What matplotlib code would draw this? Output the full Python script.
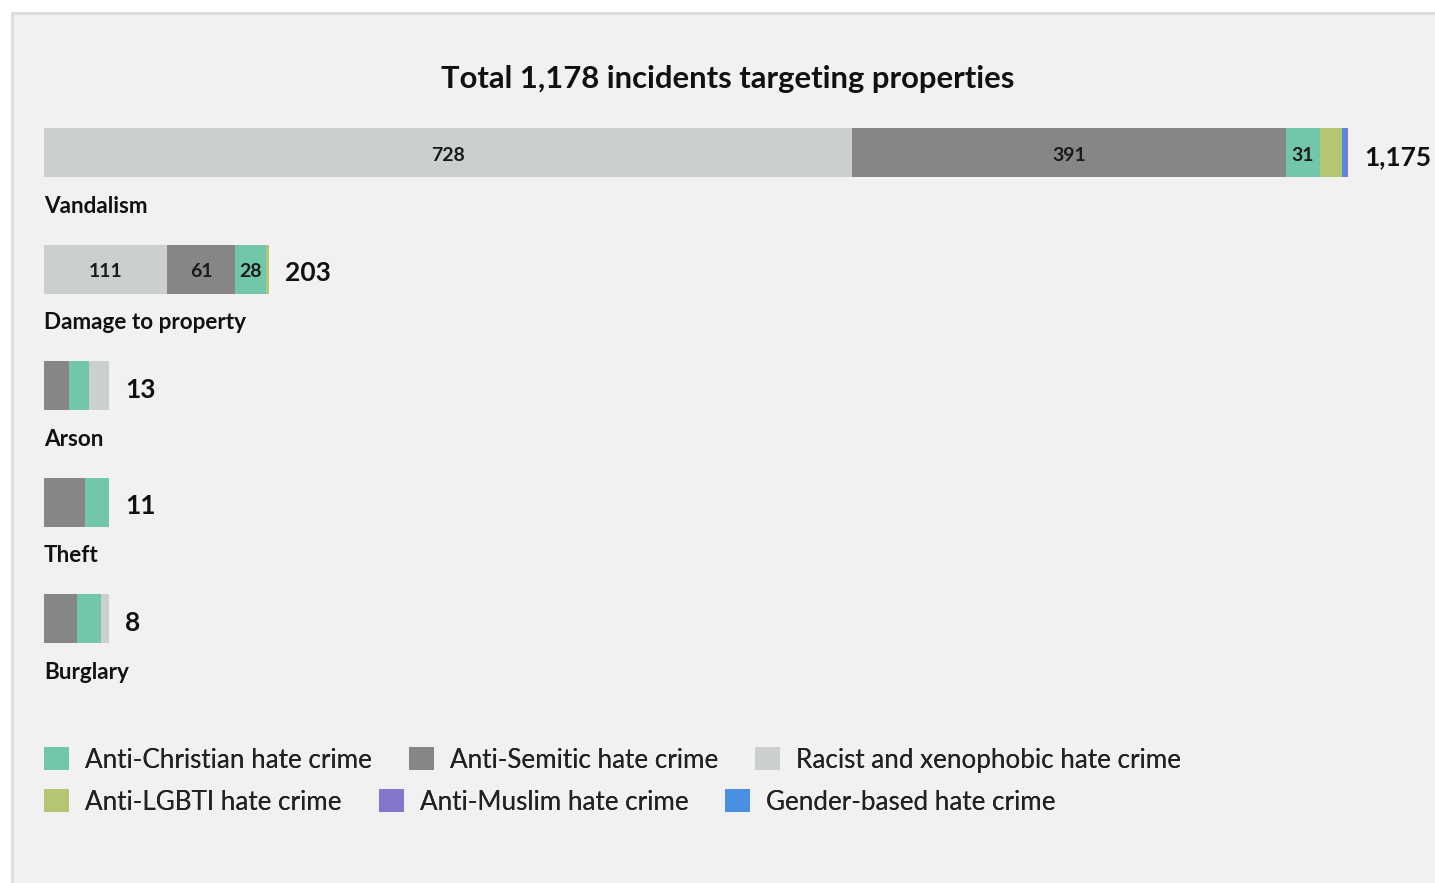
import matplotlib.pyplot as plt
from matplotlib.patches import Rectangle, Patch

plt.rcParams['font.family'] = ['Lato', 'DejaVu Sans']

# data
categories = ["Vandalism", "Damage to property", "Arson", "Theft", "Burglary"]
totals = [1175, 203, 13, 11, 8]
series_names = ["Anti-Christian hate crime", "Anti-Semitic hate crime",
                "Racist and xenophobic hate crime", "Anti-LGBTI hate crime",
                "Anti-Muslim hate crime", "Gender-based hate crime"]
anti_christian = [31, 28, 4, 4, 3]
anti_semitic = [391, 61, 5, 7, 4]
racist = [728, 111, 4, 0, 1]
anti_lgbti = [20, 3, 0, 0, 0]
anti_muslim = [2, 0, 0, 0, 0]
gender_based = [3, 0, 0, 0, 0]
series = [anti_christian, anti_semitic, racist, anti_lgbti, anti_muslim, gender_based]
colors = ["#72c6ac", "#868686", "#cbd0cf", "#b5c673", "#8675cd", "#4a90e2"]

W, H = 1435, 883
fig = plt.figure(figsize=(W / 100, H / 100), dpi=100)
fig.patch.set_facecolor("white")
# grey panel
fig.patches.append(Rectangle((12 / W, -0.01), 1.0, 1 - 13 / H + 0.01, transform=fig.transFigure,
                             facecolor="#f1f1f1", edgecolor="#dcdcdc", linewidth=2, zorder=-5))

fig.text(728 / W, 1 - 79 / H, "Total 1,178 incidents targeting properties",
         ha="center", va="center", fontsize=22.3, fontweight="bold", color="#111111")

# bar axes: 1175 units -> 1304 px
px_per_unit = 1304 / 1175
ax_left = 44
ax = fig.add_axes([ax_left / W, 1 - 676.75 / H, (W - ax_left) / W, (676.75 - 94.25) / H])
ax.set_xlim(0, (W - ax_left) / px_per_unit)
ax.set_ylim(len(categories) - 0.5, -0.5)
ax.axis("off")

max_total = max(totals)
bar_h = 49 / 116.5
for i, cat in enumerate(categories):
    # small bars get a minimum drawn length of 5% of the largest
    shown = max(totals[i], 0.05 * max_total)
    scale = shown / totals[i]
    vals = [(s[i], k) for k, s in enumerate(series) if s[i] > 0]
    vals.sort(key=lambda t: -t[0])
    left = 0
    for v, k in vals:
        w = v * scale
        ax.barh(i, w, left=left, height=bar_h, color=colors[k], linewidth=0)
        if v >= 25:
            ax.annotate(str(v), (left + w / 2, i), xytext=(0, -2), textcoords="offset points",
                        ha="center", va="center", fontsize=14, fontweight="bold",
                        color="#1a1a1a")
        left += w
    ax.annotate(f"{totals[i]:,}", (left, i), xytext=(11.5, -3), textcoords="offset points",
                ha="left", va="center", fontsize=19, fontweight="bold", color="#111111")
    ax.text(0, i + 0.46, cat, ha="left", va="center", fontsize=16.2,
            fontweight="bold", color="#111111")

# legend in two rows
handles = [Patch(facecolor=c, edgecolor="none") for c in colors]
fs = 18.7
px = fs * 100 / 72
for row, y in enumerate([760, 802]):
    leg = fig.legend(handles[row * 3:row * 3 + 3], series_names[row * 3:row * 3 + 3],
                     loc="center left", bbox_to_anchor=(44 / W, 1 - y / H), ncol=3,
                     frameon=False, fontsize=fs, borderpad=0, borderaxespad=0,
                     handlelength=25 / px, handleheight=25 / px,
                     handletextpad=16 / px, columnspacing=37 / px)
    for t in leg.get_texts():
        t.set_color("#222222")
    fig.add_artist(leg)

plt.savefig("out.png", dpi=100, facecolor=fig.get_facecolor())
